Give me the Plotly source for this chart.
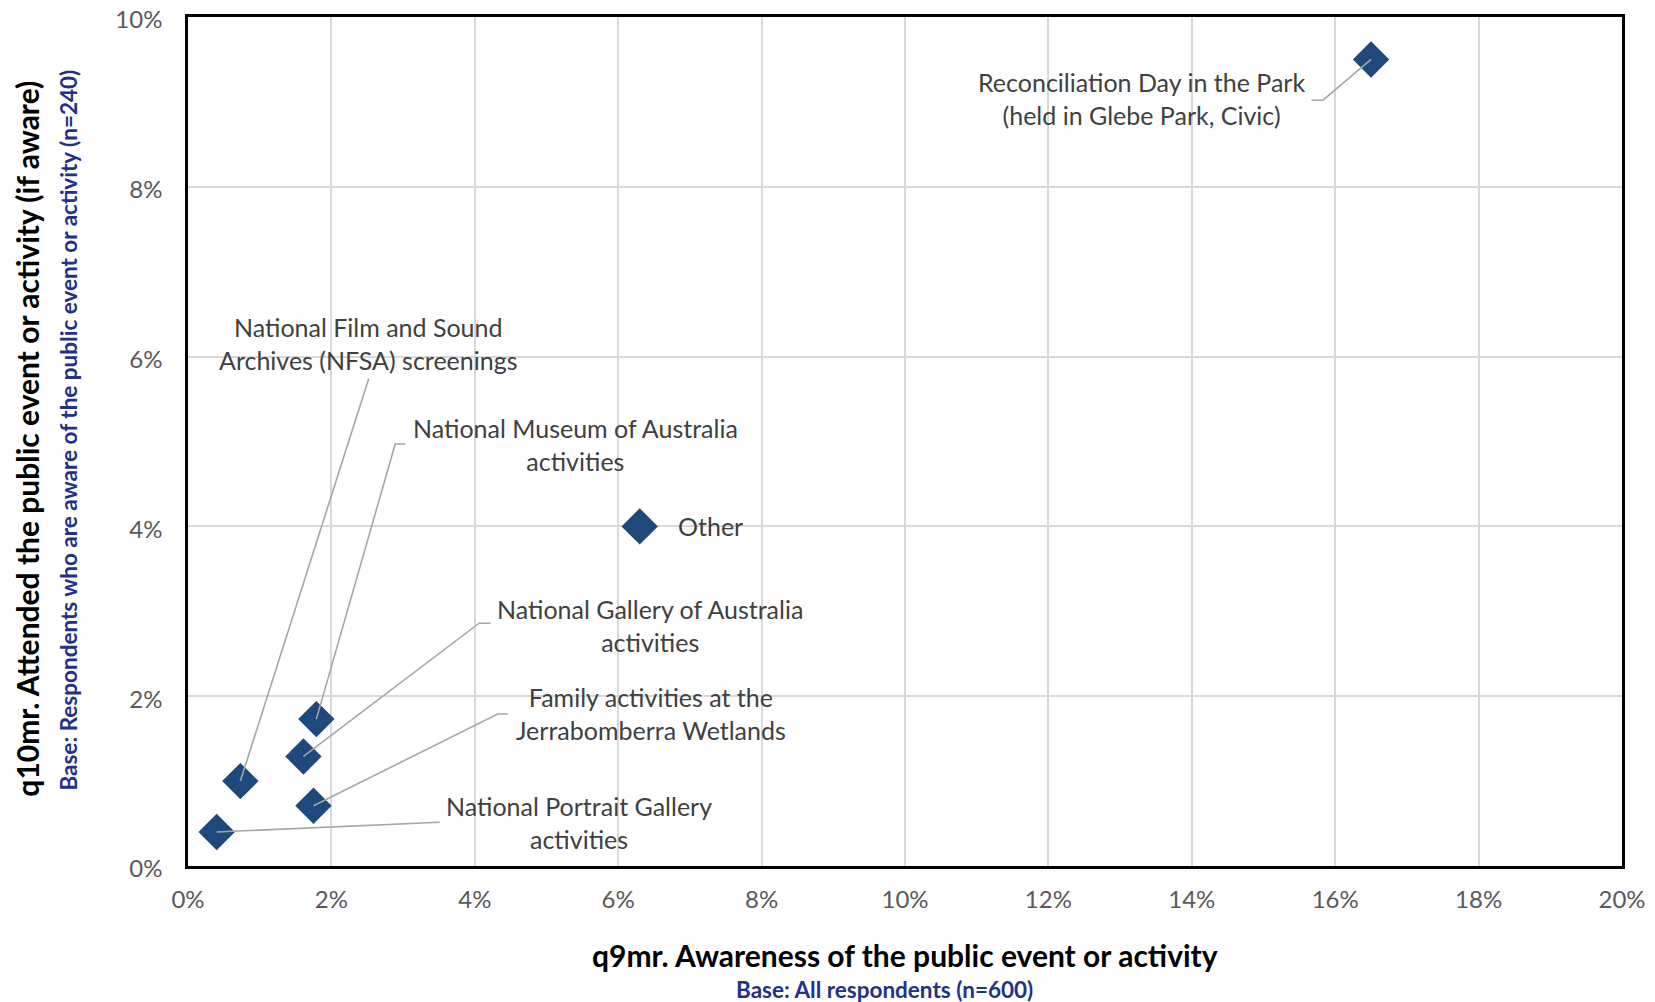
import plotly.graph_objects as go

# ---- data ----
events = [
    "Reconciliation Day in the Park (held in Glebe Park, Civic)",
    "National Film and Sound Archives (NFSA) screenings",
    "National Museum of Australia activities",
    "National Gallery of Australia activities",
    "Family activities at the Jerrabomberra Wetlands",
    "National Portrait Gallery activities",
    "Other",
]
awareness = [16.5, 0.73, 1.79, 1.61, 1.75, 0.40, 6.3]   # q9mr, %
attended = [9.5, 1.0, 1.73, 1.29, 0.71, 0.40, 4.0]      # q10mr, %
x_ticks = [0, 2, 4, 6, 8, 10, 12, 14, 16, 18, 20]
x_tick_labels = ["0%", "2%", "4%", "6%", "8%", "10%", "12%", "14%", "16%", "18%", "20%"]
y_ticks = [0, 2, 4, 6, 8, 10]
y_tick_labels = ["0%", "2%", "4%", "6%", "8%", "10%"]

# ---- label layout (positions in axis units) ----
label_text = [
    "Reconciliation Day in the Park<br>(held in Glebe Park, Civic)",
    "National Film and Sound<br>Archives (NFSA) screenings",
    "National Museum of Australia<br>activities",
    "National Gallery of Australia<br>activities",
    "Family activities at the<br>Jerrabomberra Wetlands",
    "National Portrait Gallery<br>activities",
    "Other",
]
label_pos = [(13.30, 9.035), (2.52, 6.16), (5.40, 4.96), (6.45, 2.835),
             (6.46, 1.80), (5.46, 0.51), (6.81, 4.0)]
label_anchor = ["center", "center", "center", "center", "center", "center", "left"]
# leader line: list of vertices from label side (None = no leader)
leader_pts = [
    [(15.67, 9.02), (15.83, 9.02)],
    [(2.52, 5.74)],
    [(3.03, 4.97), (2.89, 4.97)],
    [(4.22, 2.86), (4.06, 2.86)],
    [(4.46, 1.79), (4.32, 1.79)],
    [(3.51, 0.515)],
    None,
]

FONT = "Lato, Carlito, Calibri, sans-serif"
MARK = "#1F497D"
BLUE = "#1F318A"

fig = go.Figure()
fig.add_trace(go.Scatter(
    x=awareness, y=attended, mode="markers",
    marker=dict(symbol="diamond", size=28, color=MARK, line=dict(width=0)),
    hovertext=events, hoverinfo="text", showlegend=False,
))

for i, pts in enumerate(leader_pts):
    if pts is None:
        continue
    xs = [p[0] for p in pts] + [awareness[i]]
    ys = [p[1] for p in pts] + [attended[i]]
    fig.add_trace(go.Scatter(x=xs, y=ys, mode="lines",
                             line=dict(color="#A6A6A6", width=1.6),
                             hoverinfo="skip", showlegend=False))

annotations = []
for t, (lx, ly), anc in zip(label_text, label_pos, label_anchor):
    annotations.append(dict(x=lx, y=ly, xref="x", yref="y", text=t,
                            showarrow=False, xanchor=anc, yanchor="middle",
                            align="center",
                            font=dict(family=FONT, size=25, color="#404040")))

annotations += [
    dict(x=0.5, y=-0.105, xref="paper", yref="paper", xanchor="center", yanchor="middle",
         text="<b>q9mr. Awareness of the public event or activity</b>", showarrow=False,
         font=dict(family=FONT, size=30, color="#000000")),
    dict(x=0.4856, y=-0.145, xref="paper", yref="paper", xanchor="center", yanchor="middle",
         text="<b>Base: All respondents (n=600)</b>", showarrow=False,
         font=dict(family=FONT, size=22.5, color=BLUE)),
    dict(x=-0.1125, y=0.503, xref="paper", yref="paper", xanchor="center", yanchor="middle",
         text="<b>q10mr. Attended the public event or activity (if aware)</b>", showarrow=False,
         textangle=-90, font=dict(family=FONT, size=30, color="#000000")),
    dict(x=-0.0836, y=0.513, xref="paper", yref="paper", xanchor="center", yanchor="middle",
         text="<b>Base: Respondents who are aware of the public event or activity (n=240)</b>",
         showarrow=False, textangle=-90, font=dict(family=FONT, size=22.5, color=BLUE)),
]

axis_common = dict(showgrid=True, gridcolor="#D9D9D9", gridwidth=1.5,
                   showline=True, linecolor="#000000", linewidth=2.5, mirror=True,
                   zeroline=False, ticks="", automargin=False, tickmode="array",
                   ticklabeloverflow="allow",
                   tickfont=dict(family=FONT, size=24, color="#595959"))

# the page body adds an 8px margin; plot area placed to match the window
fig.update_layout(
    width=1647, height=994, autosize=False,
    margin=dict(l=179.5, r=32.5, t=9, b=136, autoexpand=False),
    plot_bgcolor="#FFFFFF", paper_bgcolor="#FFFFFF",
    xaxis=dict(range=[0, 20], tickvals=x_ticks, ticktext=x_tick_labels,
               ticklabelstandoff=10, **axis_common),
    yaxis=dict(range=[0, 10], tickvals=y_ticks, ticktext=y_tick_labels,
               ticklabelstandoff=18, ticklabelshift=3, **axis_common),
    annotations=annotations,
    font=dict(family=FONT),
)

fig.write_html("out.html")
